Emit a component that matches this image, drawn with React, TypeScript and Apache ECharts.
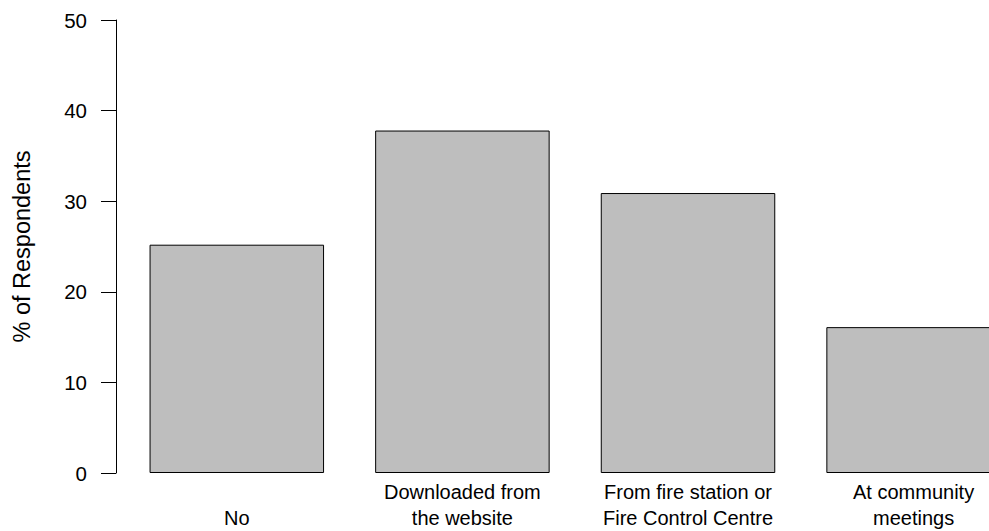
import React, { useEffect, useRef } from "react";
import * as echarts from "echarts";

const categories = [
  "No",
  "Downloaded from\nthe website",
  "From fire station or\nFire Control Centre",
  "At community\nmeetings",
];
const values = [25.2, 37.8, 30.9, 16.1];
const yTicks = { min: 0, max: 50, interval: 10 };
const yTitle = "% of Respondents";

const FONT = "'Liberation Sans', Arial, sans-serif";

export default function App() {
  const ref = useRef<HTMLDivElement>(null);
  useEffect(() => {
    if (!ref.current) return;
    const chart = echarts.init(ref.current, null, { renderer: "svg" });
    chart.setOption({
      animation: false,
      backgroundColor: "#ffffff",
      grid: { left: 124, right: 0.6, top: 20, bottom: 56, containLabel: false },
      xAxis: {
        type: "category",
        data: categories,
        axisLine: { show: false },
        axisTick: { show: false },
        axisLabel: {
          interval: 0,
          color: "#000",
          fontFamily: FONT,
          fontSize: 20,
          lineHeight: 26,
          verticalAlign: "bottom",
          margin: 58,
        },
      },
      yAxis: {
        type: "value",
        min: yTicks.min,
        max: yTicks.max,
        interval: yTicks.interval,
        offset: 8,
        name: yTitle,
        nameLocation: "middle",
        nameGap: 82,
        nameTextStyle: { color: "#000", fontFamily: FONT, fontSize: 23.5 },
        axisLine: { show: true, lineStyle: { color: "#000", width: 1 } },
        axisTick: { show: true, inside: false, length: 15, lineStyle: { color: "#000" } },
        axisLabel: { color: "#000", fontFamily: FONT, fontSize: 20.5, margin: 29 },
        splitLine: { show: false },
      },
      series: [
        {
          type: "bar",
          data: values,
          barWidth: 174.5,
          itemStyle: { color: "#bebebe", borderColor: "#000", borderWidth: 1 },
        },
      ],
    });
    return () => chart.dispose();
  }, []);
  return (
    <div
      style={{
        position: "fixed",
        left: 0,
        top: 0,
        width: 989,
        height: 531,
        overflow: "hidden",
        background: "#fff",
      }}
    >
      <div ref={ref} style={{ width: 1027, height: 531 }} />
    </div>
  );
}
